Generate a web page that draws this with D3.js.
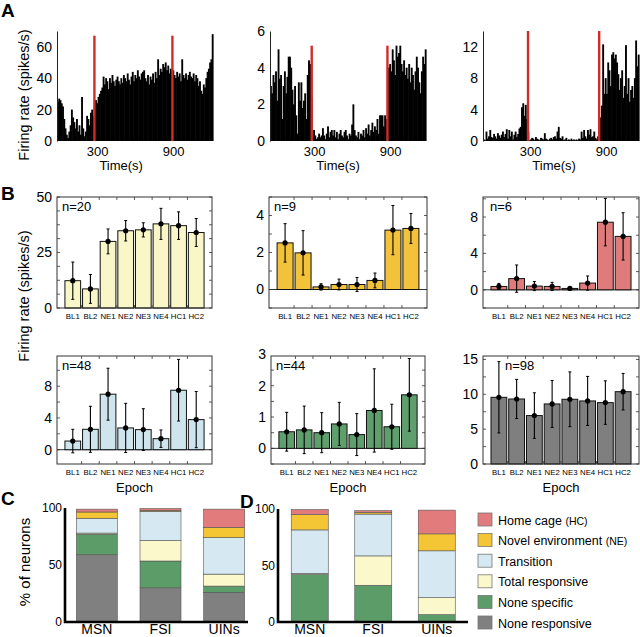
<!DOCTYPE html>
<html>
<head>
<meta charset="utf-8">
<script src="https://cdn.jsdelivr.net/npm/d3@7"></script>
<style>
	body { margin: 0; background: #fff; }
	svg { display: block; }
</style>
</head>
<body>
<svg id="figure" width="640" height="637"></svg>
<script>
;(() => {
	'use strict';

	const svg = d3.select('#figure'),
		fontFamily = '"Liberation Sans", Arial, Helvetica, sans-serif',
		fmt = d3.format('~g');

	svg.attr('font-family', fontFamily);

	// ---------- panel A: firing rate histograms (10 s bins) ----------
	const binSize = 10;
	const rateA1 = [25,27,26,24,22, 14,8,4, 2,6,10, 20, 15,12,8,14,6, 10,4, 28, 8,3,6, 16,14,10, 18,20,16, 22,
		26,24,28, 30,32,34, 41, 36,40,38,33,40,37,42,38, 35,39,41,38,36,40,37,42, 40,38,43,39,36,41,44,38,
		42,40,45,41,39,43,44,45, 40,38,42,36,41,39,43,37, 44,40,52,42, 46,44,49,47,50,45,48,43,46,44, 45,
		42,40,44,41,43,38, 52, 42,40,43,39,42,44,41,40, 43,38,42,40,35,38, 32,30,36,34, 40,44,46,50,52, 68];
	const rateA2 = [3.0,2.6,3.6,3.2,3.8,2.2, 5.0, 3.4,3.6,1.2, 3.0,3.8,2.6,3.5, 4.6,4.6,4.0, 2.8,2.0,3.0,1.4, 0.4,
		3.2,2.2,3.2,1.8, 2.2,2.6,1.2,3.6, 4.4,4.2,2.4, 0.2, 0.6,0.3,0.1,0.2,0.4,0.2,0.3, 0.7,0.3,0.1,0.4,0.8,0.2,0.5,0.6,
		0.3,0.6,0.2,0.5,0.1,0.4,0.6,0.3, 0.2,0.5,0.6,0.3,0.1,0.4, 0.3, 0.9, 2.0, 0.6,0.3,0.2,0.5,0.1,
		0.4,0.3,0.6,0.2,0.7,0.4, 0.9,0.3,0.6,1.0,0.5,0.8, 0.6,1.2,0.4,1.4, 1.4,1.4,0.8,1.4, 1.2, 0.8,
		4.0,4.2,3.8,5.0,4.4,3.6, 5.2,4.6,4.8,5.2,4.2,3.8, 4.4,3.6,4.0,3.4,4.2,3.2, 4.0,3.6,2.8,3.8,4.6,4.0,
		3.2,2.6,3.8,4.6,4.2, 5.0];
	const rateA3 = [0.2,0.1,1.2,0.3,0.6, 1.4,0.5,0.4,0.9,0.6, 0.3,1.0,0.7,0.4,0.8, 1.2,0.5,0.9,1.5,0.3,
		1.4,0.6,1.2,0.2,0.8, 1.2,0.5,0.9, 1.6,1.8,4.3, 4.8,3.2,4.6, 2.8,1.2, 0.1, 0.2,0.4,0.3,0.1,0.5,0.3,
		0.2,0.1,0.4,0.3,0.2, 1.0,0.3,0.2, 0.1,0.3,0.4,0.2,0.5,0.6, 0.3,1.2,1.8, 0.4,0.3,0.6,0.1,0.2,0.4,
		0.1,0.2,0.1,0.3,0.1,0.2,0.1, 0.2,0.1,0.3,0.2, 1.2,0.4,1.4,0.6,0.3, 1.4,0.8,1.5,0.5,0.6,1.2,
		0.4,0.2,0.6, 0.8, 3.0,4.5,12.3,6.0,8.0, 6.0,10.0,9.0,7.0,11.0, 11.3,10.5,11.0,10.0,8.5,
		6.5,8.0,9.0,5.5,7.0, 12.2,6.0,8.0,5.0,6.5, 7.0,5.5,8.0,12.8,9.5, 11.0];
	const firstBinA = [-16, -47, -71],
		eventTimesA1 = [279, 894],
		eventTimesA2 = [282, 879],
		eventTimesA3 = [284, 845],
		eventTopA = [67, 5.2, 14],
		yMaxA = [70, 6, 14],
		yTicksA1 = [0, 20, 40, 60],
		yTicksA2 = [0, 2, 4, 6],
		yTicksA3 = [0, 4, 8, 12],
		timeTicks = [300, 900];

	// ---------- panel B: mean firing rate per epoch ----------
	const epochs = ['BL1', 'BL2', 'NE1', 'NE2', 'NE3', 'NE4', 'HC1', 'HC2'];
	const nLabels = ['n=20', 'n=9', 'n=6', 'n=48', 'n=44', 'n=98'];
	const meanB1 = [12.3, 8.6, 30.0, 34.8, 35.2, 37.9, 37.1, 34.0],
		errB1 = [8.4, 6.5, 5.6, 4.6, 3.2, 7.0, 6.2, 6.3],
		meanB2 = [2.52, 1.98, 0.14, 0.27, 0.27, 0.49, 3.21, 3.30],
		errB2 = [1.04, 1.2, 0.17, 0.29, 0.38, 0.4, 1.33, 0.81],
		meanB3 = [0.37, 1.23, 0.41, 0.37, 0.15, 0.74, 7.43, 5.87],
		errB3 = [0.33, 1.5, 0.5, 0.45, 0.13, 0.78, 2.6, 2.6],
		meanB4 = [1.09, 2.57, 6.99, 2.74, 2.53, 1.39, 7.49, 3.79],
		errB4 = [1.48, 2.9, 3.27, 3.1, 2.63, 1.1, 3.88, 3.54],
		meanB5 = [0.53, 0.59, 0.50, 0.78, 0.44, 1.21, 0.69, 1.71],
		errB5 = [0.62, 0.76, 0.64, 0.69, 0.67, 1.33, 0.72, 1.16],
		meanB6 = [9.57, 9.33, 6.95, 8.62, 9.29, 9.05, 8.81, 10.38],
		errB6 = [5.12, 2.81, 3.27, 3.36, 3.93, 3.52, 3.12, 2.62];
	const yTicksB = [[0, 25, 50], [0, 2, 4], [0, 4, 8], [0, 4, 8], [0, 1, 2, 3], [0, 5, 10, 15]];

	// ---------- panels C / D: % of neurons per class ----------
	const groups = ['MSN', 'FSI', 'UINs'];
	const classNames = ['None responsive', 'None specific', 'Total responsive', 'Transition',
		'Novel environment', 'Home cage'];
	const cNoneResp = [59, 30, 26],
		cNoneSpec = [18, 23.5, 5.5],
		cTotal = [1, 18, 10.5],
		cTransition = [13, 25.5, 32],
		cNovel = [5.5, 1, 9],
		cHome = [2.5, 1.5, 16];
	const dNoneResp = [0, 0, 0],
		dNoneSpec = [42, 32.5, 6.5],
		dTotal = [1, 26, 15],
		dTransition = [38.5, 37, 41.5],
		dNovel = [13.5, 1.5, 15],
		dHome = [4.5, 1.5, 21];
	const pctTicks = [0, 50, 100];

	// colours
	const classColors = ['#808080', '#5c9c69', '#fbf8cc', '#d6e8f2', '#f4c535', '#e27b7b'],
		barColorsB = ['#f9f6c8', '#f2c33a', '#e07b7b', '#cfe5ee', '#5f9e6d', '#7f7f7f'],
		eventColor = '#d42a2a';


	/**
	* style axis texts the same way everywhere
	*/
	const styleAxis = function(g, size) {
		g.attr('font-family', fontFamily).attr('font-size', size).attr('color', '#000');
	};


	/**
	* panel A histogram
	*/
	const drawHistogram = function(p) {
		const n = p.rates.length,
			x = d3.scaleLinear().domain([p.t0, p.t0 + n * binSize]).range([p.left, p.right]),
			y = d3.scaleLinear().domain([0, p.yMax]).range([p.bottom, p.top]),
			barW = (p.right - p.left) / n,
			g = svg.append('g');

		g.selectAll('rect')
			.data(p.rates)
			.join('rect')
			.attr('x', (d, i) => x(p.t0 + i * binSize))
			.attr('width', barW + 0.6)
			.attr('y', d => y(d))
			.attr('height', d => y(0) - y(d))
			.attr('fill', '#000');

		g.selectAll('line.event')
			.data(p.events)
			.join('line')
			.attr('class', 'event')
			.attr('x1', d => x(d)).attr('x2', d => x(d))
			.attr('y1', y(0)).attr('y2', y(p.eventTop))
			.attr('stroke', eventColor)
			.attr('stroke-width', 2.4);

		const yAxis = g.append('g')
			.attr('transform', `translate(${p.left},0)`)
			.call(d3.axisLeft(y).tickValues(p.yTicks).tickFormat(fmt).tickSize(0).tickPadding(5));
		styleAxis(yAxis, 14);
		yAxis.select('.domain').attr('stroke', '#222');

		const xAxis = g.append('g')
			.attr('transform', `translate(0,${p.bottom})`)
			.call(d3.axisBottom(x).tickValues(timeTicks).tickFormat(fmt).tickSize(0).tickPadding(6));
		styleAxis(xAxis, 13);
		xAxis.select('.domain').remove();

		g.append('text')
			.attr('x', x(490))
			.attr('y', p.bottom + 29)
			.attr('text-anchor', 'middle')
			.attr('font-size', 13)
			.text('Time(s)');
	};


	/**
	* panel B bar chart with error bars
	*/
	const drawEpochBars = function(p) {
		const x = d3.scaleBand().domain(epochs).range([p.left, p.right]).paddingInner(0.11).paddingOuter(0.45),
			y = d3.scaleLinear().domain(p.domain).range([p.bottom, p.top]),
			clamp = v => Math.max(p.domain[0], Math.min(p.domain[1], v)),
			g = svg.append('g'),
			rows = epochs.map((e, i) => ({epoch: e, mean: p.means[i], err: p.errs[i]}));

		if (p.domain[0] < 0) {
			g.append('line')
				.attr('x1', p.left).attr('x2', p.right)
				.attr('y1', y(0)).attr('y2', y(0))
				.attr('stroke', '#333').attr('stroke-width', 1);
		}

		g.selectAll('rect.bar')
			.data(rows)
			.join('rect')
			.attr('class', 'bar')
			.attr('x', d => x(d.epoch))
			.attr('width', x.bandwidth())
			.attr('y', d => y(Math.max(0, d.mean)))
			.attr('height', d => Math.abs(y(d.mean) - y(0)))
			.attr('fill', p.color)
			.attr('stroke', '#111')
			.attr('stroke-width', 1);

		const cx = d => x(d.epoch) + x.bandwidth() / 2;
		g.selectAll('line.err')
			.data(rows)
			.join('line')
			.attr('class', 'err')
			.attr('x1', cx).attr('x2', cx)
			.attr('y1', d => y(clamp(d.mean - d.err)))
			.attr('y2', d => y(clamp(d.mean + d.err)))
			.attr('stroke', '#000').attr('stroke-width', 1.1);
		['lo', 'hi'].forEach(side => {
			g.selectAll('line.cap-' + side)
				.data(rows.filter(d => side === 'lo' ? d.mean - d.err > p.domain[0] : d.mean + d.err < p.domain[1]))
				.join('line')
				.attr('class', 'cap-' + side)
				.attr('x1', d => cx(d) - 1.5).attr('x2', d => cx(d) + 1.5)
				.attr('y1', d => y(side === 'lo' ? d.mean - d.err : d.mean + d.err))
				.attr('y2', d => y(side === 'lo' ? d.mean - d.err : d.mean + d.err))
				.attr('stroke', '#000').attr('stroke-width', 1);
		});
		g.selectAll('circle')
			.data(rows)
			.join('circle')
			.attr('cx', cx)
			.attr('cy', d => y(d.mean))
			.attr('r', 2.6)
			.attr('fill', '#000');

		// minor tick marks on the inside of the box
		const minorY = d3.range(Math.ceil(p.domain[0] / p.minor) * p.minor, p.domain[1] + 1e-9, p.minor);
		g.selectAll('line.ty')
			.data(minorY.flatMap(v => [[p.left, v, 3], [p.right, v, -3]]))
			.join('line')
			.attr('class', 'ty')
			.attr('x1', d => d[0]).attr('x2', d => d[0] + d[2])
			.attr('y1', d => y(d[1])).attr('y2', d => y(d[1]))
			.attr('stroke', '#333').attr('stroke-width', 0.8);
		const step = x.step();
		const bounds = epochs.slice(1).map(e => x(e) - step * 0.055);
		g.selectAll('line.tx')
			.data(bounds.flatMap(v => [[v, p.top, 3], [v, p.bottom, -3]]))
			.join('line')
			.attr('class', 'tx')
			.attr('x1', d => d[0]).attr('x2', d => d[0])
			.attr('y1', d => d[1]).attr('y2', d => d[1] + d[2])
			.attr('stroke', '#333').attr('stroke-width', 0.8);

		g.append('rect')
			.attr('x', p.left).attr('y', p.top)
			.attr('width', p.right - p.left).attr('height', p.bottom - p.top)
			.attr('fill', 'none').attr('stroke', '#333').attr('stroke-width', 1);

		const yAxis = g.append('g')
			.attr('transform', `translate(${p.left},0)`)
			.call(d3.axisLeft(y).tickValues(p.yTicks).tickFormat(fmt).tickSize(0).tickPadding(5));
		styleAxis(yAxis, 14);
		yAxis.select('.domain').remove();

		const xAxis = g.append('g')
			.attr('transform', `translate(0,${p.bottom})`)
			.call(d3.axisBottom(x).tickSize(0).tickPadding(5));
		styleAxis(xAxis, 7.8);
		xAxis.select('.domain').remove();

		g.append('text')
			.attr('x', p.left + p.nDx)
			.attr('y', p.top + 14)
			.attr('font-size', 13)
			.text(p.label);

		if (p.epochLabel) {
			g.append('text')
				.attr('x', (p.left + p.right) / 2)
				.attr('y', p.bottom + 28)
				.attr('text-anchor', 'middle')
				.attr('font-size', 13)
				.text('Epoch');
		}
	};


	/**
	* panels C and D stacked bars
	*/
	const drawStacked = function(p) {
		const keys = classNames,
			rows = groups.map((grp, i) => {
				const row = {group: grp};
				keys.forEach((k, j) => { row[k] = p.series[j][i]; });
				return row;
			}),
			stacked = d3.stack().keys(keys)(rows),
			x = d3.scaleBand().domain(groups).range([p.left, p.bandEnd]).paddingInner(p.pad).paddingOuter(p.pad / 2),
			y = d3.scaleLinear().domain([0, 100]).range([p.bottom, p.top]),
			g = svg.append('g');

		g.selectAll('g.layer')
			.data(stacked)
			.join('g')
			.attr('class', 'layer')
			.attr('fill', (d, i) => classColors[i])
			.selectAll('rect')
			.data(d => d.filter(s => s[1] - s[0] > 0))
			.join('rect')
			.attr('x', d => x(d.data.group))
			.attr('width', x.bandwidth())
			.attr('y', d => y(d[1]))
			.attr('height', d => y(d[0]) - y(d[1]))
			.attr('stroke', '#555')
			.attr('stroke-width', 0.6);

		const yAxis = g.append('g')
			.attr('transform', `translate(${p.left},0)`)
			.call(d3.axisLeft(y).tickValues(pctTicks).tickSize(0).tickPadding(3));
		styleAxis(yAxis, 12);
		yAxis.select('.domain').remove();

		const xAxis = g.append('g')
			.attr('transform', `translate(0,${p.bottom})`)
			.call(d3.axisBottom(x).tickSize(0).tickPadding(2));
		styleAxis(xAxis, 14);
		xAxis.select('.domain').remove();

		g.append('path')
			.attr('d', `M${p.left},${p.top}V${p.bottom}H${p.axisEnd}`)
			.attr('fill', 'none')
			.attr('stroke', '#000')
			.attr('stroke-width', 2.6);
	};


	/**
	* legend for C / D
	*/
	const drawLegend = function() {
		const entries = [
			{name: 'Home cage ', tag: '(HC)', color: classColors[5]},
			{name: 'Novel environment ', tag: '(NE)', color: classColors[4]},
			{name: 'Transition', tag: '', color: classColors[3]},
			{name: 'Total responsive', tag: '', color: classColors[2]},
			{name: 'None specific', tag: '', color: classColors[1]},
			{name: 'None responsive', tag: '', color: classColors[0]}
		];
		const item = svg.append('g')
			.selectAll('g')
			.data(entries)
			.join('g')
			.attr('transform', (d, i) => `translate(478,${520 + i * 20.6})`);
		item.append('rect')
			.attr('x', 0).attr('y', -7)
			.attr('width', 14).attr('height', 13)
			.attr('fill', d => d.color)
			.attr('stroke', '#777').attr('stroke-width', 0.8);
		const txt = item.append('text')
			.attr('x', 20).attr('y', 4.5)
			.attr('font-size', 12.5);
		txt.append('tspan').text(d => d.name);
		txt.append('tspan').attr('font-size', 10.5).text(d => d.tag);
	};


	const addText = function(x, y, str, opts) {
		const t = svg.append('text').attr('x', x).attr('y', y).text(str);
		Object.keys(opts || {}).forEach(k => t.attr(k, opts[k]));
		return t;
	};


	const init = function() {
		// panel A
		const rates = [rateA1, rateA2, rateA3],
			events = [eventTimesA1, eventTimesA2, eventTimesA3],
			yTicks = [yTicksA1, yTicksA2, yTicksA3],
			lefts = [57, 270, 483];
		rates.forEach((r, i) => {
			drawHistogram({
				rates: r, t0: firstBinA[i], events: events[i], eventTop: eventTopA[i],
				yMax: yMaxA[i], yTicks: yTicks[i],
				left: lefts[i], right: lefts[i] + 156, top: 31, bottom: 141
			});
		});

		// panel B
		const means = [meanB1, meanB2, meanB3, meanB4, meanB5, meanB6],
			errs = [errB1, errB2, errB3, errB4, errB5, errB6],
			frames = [
				{left: 57, right: 212, top: 197, bottom: 308, domain: [0, 50], minor: 6.25, nDx: 5},
				{left: 269, right: 427, top: 197, bottom: 308, domain: [-1, 5], minor: 1, nDx: 5},
				{left: 483, right: 639, top: 197, bottom: 308, domain: [-2, 10.2], minor: 2, nDx: 7},
				{left: 57, right: 212, top: 356, bottom: 464, domain: [-1.8, 11.8], minor: 2, nDx: 5},
				{left: 271, right: 425, top: 356, bottom: 464, domain: [-0.5, 2.95], minor: 0.5, nDx: 5},
				{left: 483, right: 639, top: 356, bottom: 464, domain: [0, 15.5], minor: 2.5, nDx: 22}
			];
		frames.forEach((f, i) => {
			drawEpochBars(Object.assign({}, f, {
				means: means[i], errs: errs[i], color: barColorsB[i],
				yTicks: yTicksB[i], label: nLabels[i], epochLabel: i >= 3
			}));
		});

		// panels C and D
		drawStacked({
			series: [cNoneResp, cNoneSpec, cTotal, cTransition, cNovel, cHome],
			left: 65, bandEnd: 256, axisEnd: 248, top: 508, bottom: 622, pad: 0.356
		});
		drawStacked({
			series: [dNoneResp, dNoneSpec, dTotal, dTransition, dNovel, dHome],
			left: 278, bandEnd: 468.5, axisEnd: 468, top: 509, bottom: 622, pad: 0.417
		});
		drawLegend();

		// axis titles and panel letters
		addText(0, 0, 'Firing rate (spikes/s)', {
			transform: 'translate(29,95) rotate(-90)', 'text-anchor': 'middle', 'font-size': 14.5
		});
		addText(0, 0, 'Firing rate (spikes/s)', {
			transform: 'translate(29,296) rotate(-90)', 'text-anchor': 'middle', 'font-size': 14.5
		});
		addText(0, 0, '% of neurons', {
			transform: 'translate(30,562) rotate(-90)', 'text-anchor': 'middle', 'font-size': 15
		});
		[['A', 1, 17], ['B', 1, 200], ['C', 1, 505], ['D', 240, 508]].forEach(l => {
			addText(l[1], l[2], l[0], {'font-size': 19, 'font-weight': 'bold'});
		});
	};

	init();

})();
</script>
</body>
</html>
